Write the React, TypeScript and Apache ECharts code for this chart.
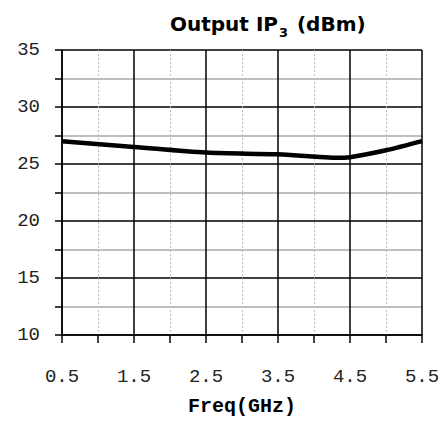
import React, { useEffect, useRef } from "react";
import * as echarts from "echarts";

const freqGHz = [0.5, 1.5, 2.5, 3.5, 4.0, 4.3, 4.5, 5.0, 5.5];
const outputIP3 = [27.0, 26.5, 26.0, 25.85, 25.65, 25.55, 25.6, 26.2, 27.0];
const yTickValues = [10, 15, 20, 25, 30, 35];
const xTickValues = [0.5, 1.5, 2.5, 3.5, 4.5, 5.5];

export default function App() {
  const ref = useRef<HTMLDivElement>(null);
  useEffect(() => {
    if (!ref.current) return;
    const chart = echarts.init(ref.current, null, { renderer: "svg" });
    const labelFont = { fontFamily: "Liberation Mono", fontSize: 19, color: "#222" };
    const isMajorX = (v: number) => xTickValues.some((t) => Math.abs(t - v) < 1e-6);
    chart.setOption({
      animation: false,
      backgroundColor: "#fff",
      title: {
        text: "{a|Output IP}{s|3}{a| (dBm)}",
        left: 165,
        top: 4,
        textStyle: {
          fontFamily: "DejaVu Sans",
          fontWeight: "bold",
          rich: {
            a: { fontFamily: "DejaVu Sans", fontWeight: "bold", fontSize: 20, color: "#000", lineHeight: 30, verticalAlign: "middle" },
            s: { fontFamily: "DejaVu Sans", fontWeight: "bold", fontSize: 13, color: "#000", lineHeight: 30, verticalAlign: "bottom", padding: [0, 2, 0, 1] },
          },
        },
      },
      grid: { left: 62, right: 21, top: 50, bottom: 88, containLabel: false },
      xAxis: [
        {
          type: "value",
          min: 0.5,
          max: 5.5,
          interval: 0.5,
          position: "bottom",
          name: "Freq(GHz)",
          nameLocation: "middle",
          nameGap: 60,
          nameTextStyle: { fontFamily: "Liberation Mono", fontWeight: "bold", fontSize: 20, lineHeight: 22, color: "#000" },
          axisLine: { show: true, lineStyle: { color: "#000", width: 1.5 } },
          axisTick: { show: true, length: 8, lineStyle: { color: "#000", width: 1.5 } },
          axisLabel: {
            ...labelFont,
            margin: 32,
            formatter: (v: number) => (isMajorX(v) ? v.toFixed(1) : ""),
          },
          splitLine: { show: true, lineStyle: { color: ["#000", "transparent"], width: 1.5 } },
        },
        {
          type: "value",
          min: 0.5,
          max: 5.5,
          interval: 0.5,
          position: "bottom",
          axisLine: { show: false },
          axisTick: { show: false },
          axisLabel: { show: false },
          splitLine: { show: true, lineStyle: { color: ["transparent", "#bbb"], width: 1, type: [2, 2] } },
        },
      ],
      yAxis: {
        type: "value",
        min: 10,
        max: 35,
        interval: 2.5,
        axisLine: { show: true, lineStyle: { color: "#000", width: 1.5 } },
        axisTick: { show: true, length: 7, lineStyle: { color: "#000", width: 1.5 } },
        axisLabel: {
          ...labelFont,
          margin: 22,
          formatter: (v: number) => (yTickValues.includes(v) ? String(v) : ""),
        },
        splitLine: { show: true, lineStyle: { color: ["#000", "#aaa"], width: 1.5 } },
      },
      series: [
        {
          type: "line",
          xAxisIndex: 0,
          data: freqGHz.map((f, i) => [f, outputIP3[i]]),
          smooth: 0.3,
          showSymbol: false,
          lineStyle: { color: "#000", width: 4.5 },
          z: 5,
        },
      ],
    });
    return () => chart.dispose();
  }, []);
  return <div ref={ref} style={{ position: "absolute", left: 0, top: 0, width: 443, height: 423 }} />;
}
